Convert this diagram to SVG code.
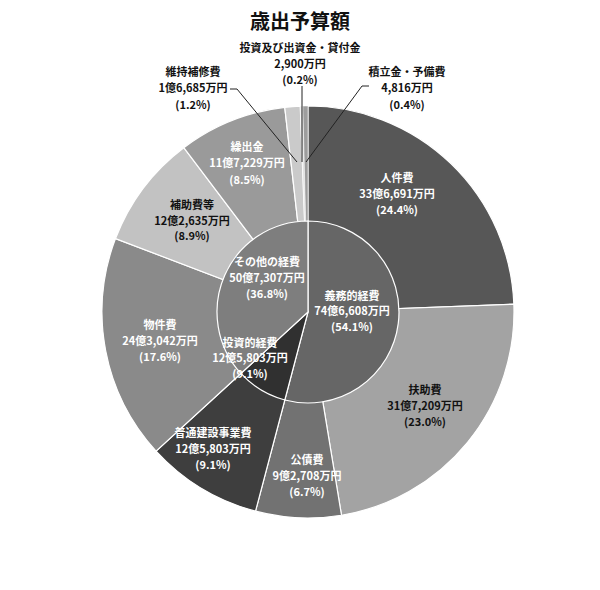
<svg xmlns="http://www.w3.org/2000/svg" width="600" height="590" viewBox="0 0 600 590">
<style>
text{font-family:"Noto Sans CJK JP","Noto Sans",sans-serif;font-size:11px;font-weight:bold;text-anchor:middle}
.w{fill:#fff}.b{fill:#111}
.s{stroke:#fff;stroke-width:1.2}
.ln{stroke:#222;stroke-width:1;fill:none}
</style>
<rect width="600" height="590" fill="#fff"/>
<text x="300" y="29" style="font-size:20px" class="b">歳出予算額</text>
<g id="outer">
<path id="jinken" class="s" fill="#575757" d="M308,312 L308,106 A206,206 0 0 1 513.85,304.24 Z"/>
<path id="fujo" class="s" fill="#a3a3a3" d="M308,312 L513.85,304.24 A206,206 0 0 1 341.5,515.26 Z"/>
<path id="kosai" class="s" fill="#727272" d="M308,312 L341.5,515.26 A206,206 0 0 1 255.52,511.2 Z"/>
<path id="futsu" class="s" fill="#3e3e3e" d="M308,312 L255.52,511.2 A206,206 0 0 1 156.07,451.12 Z"/>
<path id="bukken" class="s" fill="#8a8a8a" d="M308,312 L156.07,451.12 A206,206 0 0 1 115.52,238.58 Z"/>
<path id="hojo" class="s" fill="#c2c2c2" d="M308,312 L115.52,238.58 A206,206 0 0 1 183.79,147.66 Z"/>
<path id="kuridashi" class="s" fill="#9a9a9a" d="M308,312 L183.79,147.66 A206,206 0 0 1 284.75,107.32 Z"/>
<path id="iji" class="s" fill="#cacaca" d="M308,312 L284.75,107.32 A206,206 0 0 1 300.24,106.15 Z"/>
<path id="toshi" fill="#e0e0e0" stroke="#fff" stroke-width="0.5" d="M308,312 L300.24,106.15 A206,206 0 0 1 302.82,106.07 Z"/>
<path id="tsumitate" fill="#9d9d9d" stroke="#fff" stroke-width="0.5" d="M308,312 L302.82,106.07 A206,206 0 0 1 308,106 Z"/>
</g>
<g id="inner">
<path id="gimu" class="s" fill="#666" d="M308,312 L308,221 A91,91 0 1 1 284.82,400 Z"/>
<path id="toshiteki" class="s" fill="#303030" d="M308,312 L284.82,400 A91,91 0 0 1 240.89,373.45 Z"/>
<path id="sonota" class="s" fill="#7e7e7e" d="M308,312 L240.89,373.45 A91,91 0 0 1 308,221 Z"/>
</g>
<g id="connectors">
<path class="ln" d="M230,89 L237,89 L297,162"/>
<path class="ln" d="M302,86 L302,162"/>
<path class="ln" d="M369,86 L362,86 L306,162"/>
</g>
<g id="labels">
<g id="l-toshi" class="b"><text x="300" y="52">投資及び出資金・貸付金</text><text x="300" y="68">2,900万円</text><text x="300" y="84">(0.2%)</text></g>
<g id="l-iji" class="b"><text x="193" y="76">維持補修費</text><text x="193" y="92">1億6,685万円</text><text x="193" y="109">(1.2%)</text></g>
<g id="l-tsumitate" class="b"><text x="407" y="76">積立金・予備費</text><text x="407" y="92">4,816万円</text><text x="407" y="109">(0.4%)</text></g>
<g id="l-kuridashi" class="w"><text x="247" y="151">繰出金</text><text x="247" y="167">11億7,229万円</text><text x="247" y="184">(8.5%)</text></g>
<g id="l-jinken" class="w"><text x="397" y="182">人件費</text><text x="397" y="198">33億6,691万円</text><text x="397" y="214">(24.4%)</text></g>
<g id="l-hojo" class="b"><text x="192" y="209">補助費等</text><text x="192" y="225">12億2,635万円</text><text x="192" y="240">(8.9%)</text></g>
<g id="l-sonota" class="w"><text x="267" y="266">その他の経費</text><text x="267" y="282">50億7,307万円</text><text x="267" y="298">(36.8%)</text></g>
<g id="l-gimu" class="w"><text x="352" y="300">義務的経費</text><text x="352" y="315">74億6,608万円</text><text x="352" y="331">(54.1%)</text></g>
<g id="l-bukken" class="w"><text x="160" y="329">物件費</text><text x="160" y="345">24億3,042万円</text><text x="160" y="361">(17.6%)</text></g>
<g id="l-toshiteki" class="w"><text x="250" y="347">投資的経費</text><text x="250" y="362">12億5,803万円</text><text x="250" y="378">(9.1%)</text></g>
<g id="l-fujo" class="b"><text x="425" y="394">扶助費</text><text x="425" y="410">31億7,209万円</text><text x="425" y="426">(23.0%)</text></g>
<g id="l-futsu" class="w"><text x="213" y="437">普通建設事業費</text><text x="213" y="453">12億5,803万円</text><text x="213" y="469">(9.1%)</text></g>
<g id="l-kosai" class="w"><text x="307" y="464">公債費</text><text x="307" y="480">9億2,708万円</text><text x="307" y="496">(6.7%)</text></g>
</g>
</svg>
